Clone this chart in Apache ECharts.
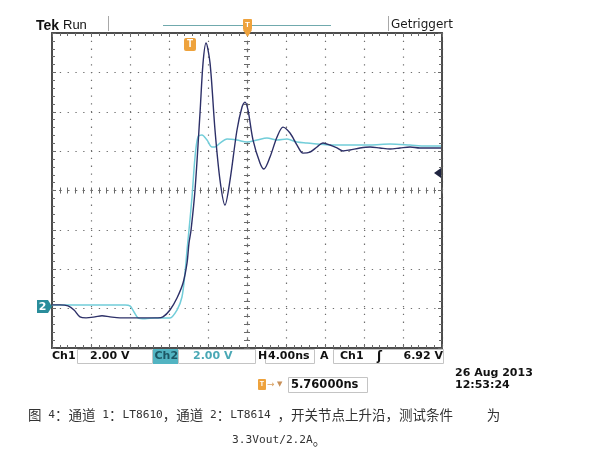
<!DOCTYPE html>
<html><head><meta charset="utf-8">
<script src="https://cdn.jsdelivr.net/npm/echarts@6/dist/echarts.min.js"></script>
<style>html,body{margin:0;padding:0;background:#fff}#c{width:610px;height:462px}</style>
</head><body><div id="c"></div>
<script>
// Time axis: 4 ns/div, 10 divisions (screen time, 0 = centre)
const timeTicks = [-20, -16, -12, -8, -4, 0, 4, 8, 12, 16, 20];
// Vertical axis: 2 V/div, 8 divisions (screen volts, 0 = centre)
const voltTicks = [-8, -6, -4, -2, 0, 2, 4, 6, 8];

// Channel 1 (LT8610) – dark trace
const ch1Time = [-20,-19.18,-18.36,-17.74,-17.13,-16.51,-15.59,-14.87,-14.05,-13.03,-12.0,-10.97,-9.95,-9.13,-8.62,-7.9,-7.18,-6.56,-6.15,-5.95,-5.74,-5.33,-4.82,-4.51,-4.2,-3.79,-3.28,-2.77,-2.26,-1.74,-1.03,-0.51,-0.21,0.1,0.62,1.33,1.74,2.36,3.08,3.69,4.41,5.13,5.74,6.46,7.18,7.79,8.51,9.23,9.85,10.56,11.59,12.62,13.64,14.67,15.69,16.72,17.74,18.77,19.9];
const ch1Volt = [-5.81,-5.81,-5.86,-6.07,-6.42,-6.47,-6.42,-6.36,-6.42,-6.47,-6.47,-6.47,-6.47,-6.47,-6.42,-6.07,-5.46,-4.70,-3.68,-2.67,-2.01,0.03,3.93,6.47,7.49,6.47,3.06,0.53,-0.74,0.53,3.06,4.24,4.49,4.09,2.56,1.40,1.09,1.70,2.72,3.22,2.92,2.31,1.90,1.95,2.21,2.41,2.31,2.16,2.01,2.06,2.16,2.21,2.16,2.11,2.16,2.21,2.16,2.16,2.16];

// Channel 2 (LT8614) – cyan trace
const ch2Time = [-20,-18.15,-16.1,-14.05,-12.51,-12.0,-11.59,-11.18,-10.46,-9.44,-8.62,-7.9,-7.18,-6.67,-6.36,-6.15,-5.95,-5.64,-5.33,-5.03,-4.62,-4.1,-3.59,-3.28,-2.77,-2.05,-1.03,0,1.03,2.05,3.08,4.1,5.13,6.15,7.18,8.51,10.56,12.62,14.67,16.72,18.26,19.9];
const ch2Volt = [-5.81,-5.81,-5.81,-5.81,-5.81,-5.86,-6.17,-6.47,-6.52,-6.47,-6.47,-6.47,-6.07,-5.41,-4.19,-3.02,-2.01,-0.33,1.70,2.72,2.82,2.56,2.21,2.21,2.41,2.61,2.56,2.46,2.56,2.67,2.56,2.61,2.46,2.41,2.36,2.31,2.31,2.31,2.36,2.31,2.26,2.26];

const pair = (t, v) => t.map((x, i) => [x, v[i]]);

const tMin = timeTicks[0], tMax = timeTicks[timeTicks.length - 1], tInt = timeTicks[1] - timeTicks[0];
const vMin = voltTicks[0], vMax = voltTicks[voltTicks.length - 1], vInt = voltTicks[1] - voltTicks[0];

const dotted = { color: '#6e6e6e', width: 1.2, type: [1.3, 6.5] };
const tickStyle = { color: '#6a6a6a', width: 1 };
const borderLine = { color: '#4d4d4d', width: 2 };

function axis(isX, pos, opts) {
  return Object.assign({
    type: 'value', gridIndex: 0, position: pos,
    min: isX ? tMin : vMin, max: isX ? tMax : vMax, interval: isX ? tInt : vInt,
    axisLabel: { show: false }, splitLine: { show: false },
    axisTick: { show: true, inside: true, length: 4, lineStyle: tickStyle },
    minorTick: { show: true, splitNumber: 5, length: 3, lineStyle: tickStyle }
  }, opts);
}

const xAxes = [
  axis(true, 'bottom', { axisLine: { onZero: false, lineStyle: borderLine }, splitLine: { show: true, lineStyle: dotted } }),
  axis(true, 'top', { axisLine: { onZero: false, lineStyle: borderLine } }),
  axis(true, 'bottom', { axisLine: { onZero: true, onZeroAxisIndex: 0, lineStyle: dotted }, axisTick: { show: true, inside: true, length: 3, lineStyle: tickStyle } }),
  axis(true, 'bottom', { axisLine: { onZero: true, onZeroAxisIndex: 0, lineStyle: dotted }, axisTick: { show: true, inside: false, length: 3, lineStyle: tickStyle } })
];
const yAxes = [
  axis(false, 'left', { axisLine: { onZero: false, lineStyle: borderLine }, splitLine: { show: true, lineStyle: dotted } }),
  axis(false, 'right', { axisLine: { onZero: false, lineStyle: borderLine } }),
  axis(false, 'left', { axisLine: { onZero: true, onZeroAxisIndex: 0, lineStyle: dotted }, axisTick: { show: true, inside: true, length: 3, lineStyle: tickStyle } }),
  axis(false, 'left', { axisLine: { onZero: true, onZeroAxisIndex: 0, lineStyle: dotted }, axisTick: { show: true, inside: false, length: 3, lineStyle: tickStyle } })
];

const SANS = '"DejaVu Sans"';
const orange = '#eea23c';
const mid = 'middle';
function txt(x, y, text, font, fill, align) {
  return { type: 'text', x: x, y: y, z: 110, style: { text: text, font: font, fill: fill || '#111', textAlign: align || 'left', textVerticalAlign: mid } };
}
function box(x, y, w, h, stroke, fill) {
  return { type: 'rect', z: 90, shape: { x: x, y: y, width: w, height: h }, style: { stroke: stroke || '#c4c4c4', fill: fill || '#fff', lineWidth: 1 } };
}

const capRich = {
  c: { font: '13.5px "Noto Sans CJK SC"', fill: '#333', verticalAlign: 'middle' },
  m: { font: '11.2px "DejaVu Sans Mono"', fill: '#333', verticalAlign: 'middle' }
};

const graphics = [
  // header
  txt(36, 26, 'Tek', 'bold 14px "Liberation Sans"'),
  txt(63, 25, 'Run', '13px "Liberation Sans"'),
  { type: 'line', z: 100, shape: { x1: 108.5, y1: 16, x2: 108.5, y2: 31 }, style: { stroke: '#a8a8a8', lineWidth: 1 } },
  { type: 'line', z: 100, shape: { x1: 163, y1: 25.5, x2: 331, y2: 25.5 }, style: { stroke: '#70a9ad', lineWidth: 1 } },
  { type: 'rect', z: 101, shape: { x: 243, y: 19, width: 9, height: 11, r: 1 }, style: { fill: orange } },
  { type: 'polygon', z: 101, shape: { points: [[243, 30], [252, 30], [247.5, 37]] }, style: { fill: orange } },
  txt(247.5, 24.5, 'T', 'bold 8px "Liberation Sans"', '#fff', 'center'),
  { type: 'line', z: 100, shape: { x1: 388.5, y1: 16, x2: 388.5, y2: 31 }, style: { stroke: '#a8a8a8', lineWidth: 1 } },
  txt(391, 25, 'Getriggert', '12px ' + SANS, '#1a1a1a'),
  // trigger "T" in plot
  { type: 'rect', z: 101, shape: { x: 184, y: 38, width: 12, height: 13, r: 2 }, style: { fill: orange } },
  txt(190, 44.5, 'T', 'bold 10px "Liberation Sans"', '#fff', 'center'),
  // channel 2 ground marker
  { type: 'rect', z: 101, shape: { x: 37, y: 300, width: 11, height: 13 }, style: { fill: '#2a8d9b' } },
  { type: 'polygon', z: 101, shape: { points: [[48, 300], [52, 306.5], [48, 313]] }, style: { fill: '#2a8d9b' } },
  txt(42.5, 306.8, '2', 'bold 11px ' + SANS, '#fff', 'center'),
  // trigger level arrow
  { type: 'polygon', z: 101, shape: { points: [[434, 173], [441, 168], [441, 178]] }, style: { fill: '#1f2440' } },
  // status bar
  txt(52, 356.5, 'Ch1', 'bold 11px ' + SANS),
  box(77.5, 349.5, 75, 14),
  txt(90, 356.5, '2.00 V', 'bold 11px ' + SANS),
  { type: 'rect', z: 91, shape: { x: 153, y: 349, width: 25, height: 15 }, style: { fill: '#52b4c2' } },
  txt(154.5, 356.5, 'Ch2', 'bold 11px ' + SANS, '#1d5764'),
  box(178.5, 349.5, 77, 14),
  txt(193, 356.5, '2.00 V', 'bold 11px ' + SANS, '#4aa8b5'),
  txt(258, 356.5, 'H', 'bold 11px ' + SANS),
  box(265.5, 349.5, 49, 14),
  txt(268, 356.5, '4.00ns', 'bold 11px ' + SANS),
  txt(320, 356.5, 'A', 'bold 11px ' + SANS),
  box(333.5, 349.5, 110, 14),
  txt(340, 356.5, 'Ch1', 'bold 11px ' + SANS),
  txt(377, 356.5, 'ʃ', 'bold 12px ' + SANS),
  txt(443, 356.5, '6.92 V', 'bold 11px ' + SANS, '#111', 'right'),
  // trigger position line
  { type: 'rect', z: 101, shape: { x: 258, y: 379, width: 8, height: 11, r: 1 }, style: { fill: orange } },
  txt(262, 384.5, 'T', 'bold 7px "Liberation Sans"', '#fff', 'center'),
  txt(267, 384.5, '→', '9px ' + SANS, '#d9a060'),
  txt(277, 384, '▼', '7px ' + SANS, '#c89058'),
  box(288.5, 377.5, 79, 15),
  txt(291, 385, '5.76000ns', 'bold 11.5px ' + SANS),
  // date/time
  txt(455, 373, '26 Aug 2013', 'bold 11px ' + SANS),
  txt(455, 385.5, '12:53:24', 'bold 11px ' + SANS),
  // caption
  { type: 'text', x: 28, y: 415, z: 100, style: {
      text: '{c|图}{m| 4}{c|：通道}{m| 1}{c|：}{m|LT8610}{c|，通道}{m| 2}{c|：}{m|LT8614 }{c|，开关节点上升沿，测试条件}{m|     }{c|为}',
      textVerticalAlign: mid, fill: '#333', rich: capRich } },
  { type: 'text', x: 232, y: 440, z: 100, style: {
      text: '{m|3.3Vout/2.2A}{c|。}', textVerticalAlign: mid, fill: '#333', rich: capRich } }
];

const chart = echarts.init(document.getElementById('c'), null, { renderer: 'canvas' });
chart.setOption({
  animation: false,
  backgroundColor: '#fff',
  grid: { left: 52, top: 33, width: 390, height: 315 },
  xAxis: xAxes,
  yAxis: yAxes,
  series: [
    { name: 'Ch2', type: 'line', xAxisIndex: 0, yAxisIndex: 0, data: pair(ch2Time, ch2Volt), showSymbol: false, smooth: 0.3,
      lineStyle: { color: '#72cdd9', width: 1.5 }, z: 5 },
    { name: 'Ch1', type: 'line', xAxisIndex: 0, yAxisIndex: 0, data: pair(ch1Time, ch1Volt), showSymbol: false, smooth: 0.3,
      lineStyle: { color: '#2d3068', width: 1.4 }, z: 6 }
  ],
  graphic: graphics
});
</script></body></html>
